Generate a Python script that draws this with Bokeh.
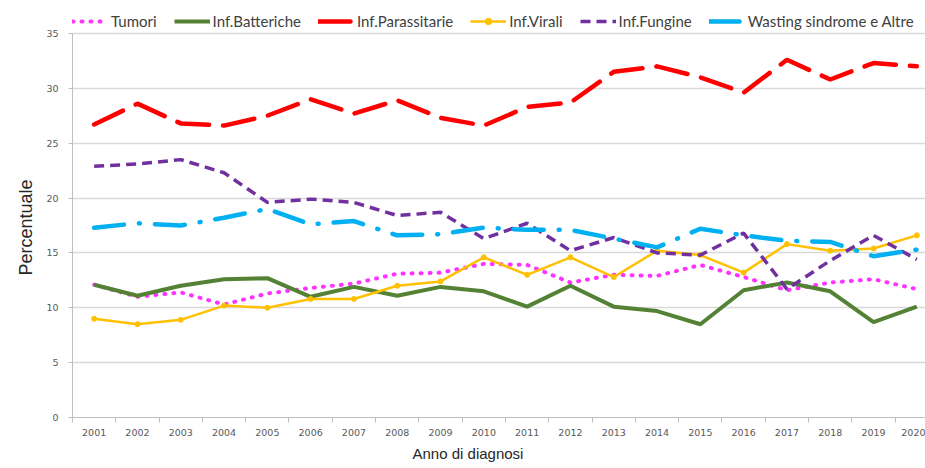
from bokeh.plotting import figure
from bokeh.models import (Range1d, FixedTicker, Legend, LegendItem, Title)
from bokeh.embed import file_html
from bokeh.resources import INLINE

years = list(range(2001, 2021))
tumori = [12.1, 11.0, 11.4, 10.3, 11.3, 11.8, 12.2, 13.1, 13.2, 14.0, 13.9, 12.3, 13.0, 12.9, 13.9, 12.8, 11.6, 12.3, 12.6, 11.7]
batteriche = [12.1, 11.1, 12.0, 12.6, 12.7, 11.0, 11.9, 11.1, 11.9, 11.5, 10.1, 12.0, 10.1, 9.7, 8.5, 11.6, 12.3, 11.5, 8.7, 10.1]
parassitarie = [26.7, 28.6, 26.8, 26.6, 27.5, 29.0, 27.7, 28.9, 27.3, 26.6, 28.3, 28.7, 31.5, 32.0, 31.0, 29.6, 32.6, 30.8, 32.3, 32.0]
virali = [9.0, 8.5, 8.9, 10.2, 10.0, 10.8, 10.8, 12.0, 12.4, 14.6, 13.0, 14.6, 12.8, 15.2, 14.8, 13.2, 15.8, 15.2, 15.4, 16.6]
fungine = [22.9, 23.1, 23.5, 22.3, 19.6, 19.9, 19.6, 18.4, 18.7, 16.3, 17.7, 15.2, 16.4, 15.0, 14.8, 16.8, 11.7, 14.3, 16.6, 14.4]
wasting = [17.3, 17.7, 17.5, 18.2, 19.0, 17.6, 17.9, 16.6, 16.7, 17.3, 17.1, 17.1, 16.3, 15.5, 17.2, 16.6, 16.1, 16.0, 14.7, 15.3]
y_ticks = [0, 5, 10, 15, 20, 25, 30, 35]

p = figure(width=925, height=468, output_backend="svg", toolbar_location=None,
           x_range=Range1d(2000.5, 2020.2), y_range=Range1d(0, 38.0),
           min_border_left=72, min_border_right=0, min_border_top=0, min_border_bottom=51)
p.outline_line_color = None
p.background_fill_color = "white"

r_tum = p.line(years, tumori, line_color="#ff33ff", line_width=4, line_dash="1 8", line_cap="round")
r_bat = p.line(years, batteriche, line_color="#548235", line_width=4)
r_par = p.line(years, parassitarie, line_color="#ff0000", line_width=4.5, line_dash="32 14", line_cap="round")
r_vir = p.line(years, virali, line_color="#ffc000", line_width=2.5)
r_virm = p.scatter(years, virali, size=5, fill_color="#ffc000", line_color="#ffc000")
r_fun = p.line(years, fungine, line_color="#7030a0", line_width=3.5, line_dash="10 6")
r_was = p.line(years, wasting, line_color="#00b0f0", line_width=4.5, line_dash="30 15 1 15", line_cap="round")

legend = Legend(items=[
    LegendItem(label="Tumori", renderers=[r_tum]),
    LegendItem(label="Inf.Batteriche", renderers=[r_bat]),
    LegendItem(label="Inf.Parassitarie", renderers=[r_par]),
    LegendItem(label="Inf.Virali", renderers=[r_vir, r_virm]),
    LegendItem(label="Inf.Fungine", renderers=[r_fun]),
    LegendItem(label="Wasting sindrome e Altre", renderers=[r_was]),
], orientation="horizontal", location=(0, 387), glyph_width=36, glyph_height=16,
   label_height=16, label_width=10, label_standoff=3, spacing=17, padding=0, margin=0,
   label_text_font="Lato", label_text_font_size="15px", label_text_color="#404040",
   border_line_alpha=0, background_fill_alpha=0)
p.add_layout(legend, "center")

# x axis
p.xaxis.ticker = FixedTicker(ticks=years, minor_ticks=[y - 0.5 for y in years] + [2020.5])
p.xaxis.major_tick_out = 0
p.xaxis.major_tick_in = 0
p.xaxis.minor_tick_out = 5
p.xaxis.minor_tick_in = 0
p.xaxis.minor_tick_line_color = "#bfbfbf"
p.xaxis.axis_line_color = "#bfbfbf"
p.xaxis.major_label_standoff = 6
p.xaxis.major_label_text_font = "DejaVu Sans"
p.xaxis.major_label_text_font_size = "9.5px"
p.xaxis.major_label_text_color = "#595959"
p.add_layout(Title(text="Anno di diagnosi", align="left", offset=340, standoff=8,
                   text_font="Liberation Sans", text_font_size="15px",
                   text_font_style="normal", text_color="#262626"), "below")

# y axis
p.yaxis.ticker = FixedTicker(ticks=y_ticks)
p.yaxis.bounds = (0, 35)
p.yaxis.minor_tick_line_color = None
p.yaxis.major_tick_out = 4
p.yaxis.major_tick_in = 0
p.yaxis.major_tick_line_color = "#bfbfbf"
p.yaxis.axis_line_color = "#bfbfbf"
p.yaxis.major_label_standoff = 10
p.yaxis.major_label_text_font = "DejaVu Sans"
p.yaxis.major_label_text_font_size = "9.5px"
p.yaxis.major_label_text_color = "#595959"
p.add_layout(Title(text="Percentuale", align="left", offset=142, standoff=15,
                   text_font="Liberation Sans", text_font_size="18px",
                   text_font_style="normal", text_color="#262626"), "left")

p.xgrid.grid_line_color = None
p.ygrid.grid_line_color = "#d9d9d9"
p.ygrid.grid_line_width = 1.5

open("out.html", "w").write(file_html(p, INLINE))
